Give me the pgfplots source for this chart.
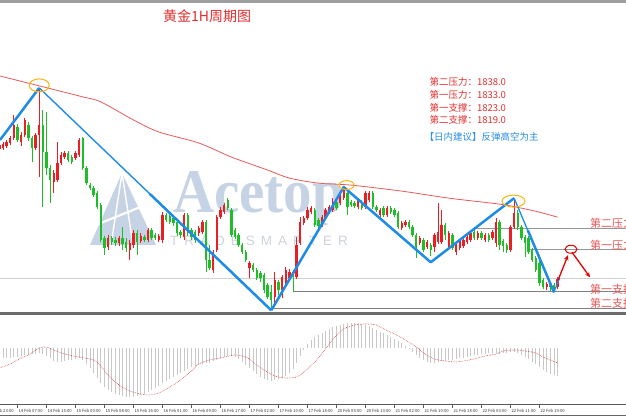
\documentclass[border=0pt]{standalone}
\usepackage{fontspec}
\setmainfont{Noto Sans CJK SC}
\newfontfamily\wmfont{Liberation Serif}
\newfontfamily\wmsans{Liberation Sans}
\usepackage{pgfplots}
\pgfplotsset{compat=1.18}
\usepackage{pgfplotstable}
\usetikzlibrary{arrows.meta}

\definecolor{cup}{RGB}{235,30,35}
\definecolor{cdn}{RGB}{30,190,40}
\definecolor{zz}{RGB}{30,140,230}
\definecolor{lvl}{RGB}{150,150,150}
\definecolor{txtred}{RGB}{225,45,45}
\definecolor{lblred}{RGB}{232,85,85}
\definecolor{txtblue}{RGB}{40,140,225}
\definecolor{ma}{RGB}{230,90,90}
\definecolor{orng}{RGB}{245,180,20}
\definecolor{wm}{RGB}{198,211,229}
\definecolor{wm2}{RGB}{206,211,219}
\definecolor{hist}{RGB}{200,200,200}
\definecolor{sig}{RGB}{205,60,60}

\pgfplotstableread{
x o h l c
3 1856.53 1857.94 1856.06 1857.47
4 1856.77 1858.18 1856.30 1857.71
5 1857.24 1858.65 1856.77 1858.18
6 1857.94 1859.59 1857.47 1859.12
7 1859.12 1864.53 1858.65 1862.18
9 1858.18 1860.53 1857.24 1859.82
10 1859.82 1863.82 1859.35 1863.35
13 1856.77 1860.29 1856.30 1859.82
14 1859.82 1870.88 1849.94 1862.18
18 1848.77 1851.59 1846.18 1850.88
19 1849.24 1858.18 1848.77 1853.24
20 1853.24 1855.82 1852.77 1855.12
21 1854.65 1856.06 1854.18 1855.59
24 1854.41 1856.06 1853.94 1855.59
25 1855.12 1859.12 1854.65 1858.65
33 1833.48 1836.30 1832.77 1835.59
36 1834.42 1836.06 1833.71 1835.59
39 1832.77 1835.12 1830.42 1834.42
40 1833.95 1837.47 1833.24 1836.77
42 1834.89 1836.77 1834.42 1836.06
44 1835.12 1837.94 1834.65 1837.47
47 1835.12 1836.53 1834.65 1836.06
48 1835.12 1841.71 1834.42 1841.00
54 1835.83 1841.47 1835.12 1841.00
58 1836.77 1838.41 1836.06 1837.94
59 1837.00 1839.82 1836.53 1839.35
62 1828.07 1832.77 1827.37 1832.30
63 1832.77 1841.00 1832.30 1840.53
64 1840.53 1842.88 1840.06 1842.18
65 1841.71 1843.82 1841.24 1843.35
72 1828.54 1830.19 1826.19 1829.72
79 1821.73 1827.60 1819.38 1825.72
81 1823.37 1826.90 1821.49 1826.43
82 1825.25 1828.78 1824.08 1828.07
83 1826.19 1828.31 1825.49 1827.60
85 1826.43 1835.83 1825.96 1833.95
86 1834.42 1840.53 1833.95 1839.35
87 1839.12 1840.77 1838.65 1840.30
88 1840.30 1842.88 1839.82 1842.18
89 1841.71 1843.12 1841.24 1842.65
92 1838.65 1841.00 1838.18 1840.53
93 1840.30 1842.65 1839.82 1842.18
94 1841.71 1843.35 1841.24 1842.88
95 1842.18 1845.00 1841.71 1844.06
97 1843.82 1846.18 1843.35 1845.71
98 1845.00 1847.59 1844.53 1846.88
102 1842.88 1845.00 1842.41 1844.53
104 1842.88 1846.65 1842.41 1846.18
105 1844.53 1846.65 1844.06 1846.18
108 1841.00 1842.65 1840.53 1842.18
110 1841.00 1843.12 1840.53 1842.65
114 1837.94 1839.59 1837.47 1839.12
115 1838.65 1839.82 1838.18 1839.35
119 1834.42 1836.06 1833.95 1835.59
121 1833.48 1835.12 1833.01 1834.65
123 1833.48 1836.77 1832.30 1836.30
124 1834.65 1843.82 1834.18 1837.00
125 1834.65 1842.18 1834.18 1838.65
127 1833.48 1837.24 1832.77 1836.77
129 1832.30 1834.42 1831.60 1833.95
130 1833.24 1835.36 1832.77 1834.89
131 1833.71 1835.59 1833.24 1835.12
132 1834.65 1836.30 1834.18 1835.83
133 1835.12 1837.24 1834.65 1836.77
135 1835.59 1837.24 1835.12 1836.77
137 1835.12 1836.77 1834.65 1836.30
139 1835.59 1837.47 1835.12 1837.00
140 1834.42 1840.30 1833.48 1839.35
144 1832.77 1838.65 1832.30 1838.18
145 1838.18 1844.77 1837.71 1841.47
154 1824.08 1825.25 1823.37 1824.78
157 1824.08 1826.43 1823.61 1825.96
}\upc

\pgfplotstableread{
x o h l c
8 1861.71 1862.41 1858.18 1858.65
11 1862.18 1862.88 1858.41 1859.12
12 1859.12 1859.59 1853.47 1856.77
15 1862.18 1865.71 1842.88 1855.82
16 1855.82 1865.24 1850.41 1852.06
17 1852.06 1852.77 1843.82 1849.24
22 1855.59 1856.06 1853.47 1853.94
23 1854.65 1855.12 1853.00 1853.47
26 1859.12 1859.35 1851.59 1852.06
27 1852.06 1852.53 1848.06 1848.53
28 1848.06 1848.53 1846.88 1847.35
29 1847.35 1847.82 1845.24 1845.71
30 1846.18 1846.65 1842.41 1842.88
31 1843.35 1843.82 1834.65 1835.12
32 1835.59 1836.06 1831.60 1833.24
34 1835.59 1836.06 1833.95 1834.65
35 1835.12 1835.83 1833.71 1834.42
37 1835.59 1838.18 1832.77 1834.18
38 1834.65 1835.59 1832.30 1833.24
41 1836.77 1837.47 1831.60 1834.65
43 1835.83 1836.30 1834.65 1835.12
45 1837.47 1837.94 1835.12 1835.59
46 1836.30 1836.77 1835.12 1835.59
49 1841.00 1841.47 1839.35 1839.82
50 1840.77 1841.47 1838.88 1839.35
51 1840.30 1840.77 1838.41 1839.12
52 1839.35 1839.82 1836.06 1836.77
53 1837.00 1837.47 1835.59 1836.30
55 1841.00 1841.47 1836.06 1836.77
56 1837.47 1837.94 1835.12 1835.83
57 1837.00 1837.47 1834.42 1835.12
60 1839.35 1839.82 1827.60 1830.42
61 1830.42 1833.95 1828.07 1828.54
66 1844.53 1845.00 1842.18 1842.65
67 1842.18 1842.65 1835.83 1836.30
68 1837.47 1837.94 1835.36 1835.83
69 1836.30 1836.77 1833.48 1833.95
70 1833.95 1834.42 1831.83 1832.30
71 1832.30 1832.77 1829.95 1830.42
73 1829.25 1829.72 1827.60 1828.07
74 1828.07 1828.54 1825.72 1826.19
75 1827.37 1827.84 1825.25 1826.19
76 1826.90 1827.37 1822.67 1823.37
77 1824.55 1825.02 1821.26 1821.73
78 1822.90 1824.55 1818.67 1821.02
80 1825.25 1825.72 1822.20 1823.37
84 1827.60 1828.07 1822.90 1826.43
90 1842.18 1842.65 1838.18 1838.65
91 1839.82 1840.30 1837.94 1838.41
96 1844.06 1844.53 1842.18 1842.65
99 1846.18 1846.65 1841.00 1842.88
100 1844.06 1844.53 1842.88 1843.35
101 1843.82 1844.30 1842.65 1843.12
103 1844.06 1844.53 1842.18 1842.65
106 1846.18 1846.65 1842.41 1842.88
107 1842.88 1843.35 1841.71 1842.18
109 1842.65 1843.12 1840.53 1841.00
111 1842.65 1843.12 1841.24 1841.71
112 1842.18 1842.65 1840.53 1841.00
113 1841.47 1841.94 1837.71 1838.18
116 1839.35 1839.82 1837.71 1838.18
117 1838.18 1838.65 1835.83 1836.30
118 1836.30 1836.77 1830.89 1833.48
120 1835.12 1835.59 1832.30 1832.77
122 1833.95 1834.42 1831.36 1832.77
126 1838.65 1839.12 1835.12 1836.30
128 1836.30 1836.77 1832.77 1833.24
134 1837.00 1837.47 1835.12 1835.59
136 1836.77 1837.24 1835.12 1835.59
138 1836.30 1836.77 1834.65 1835.12
141 1839.35 1839.82 1832.77 1833.95
142 1834.89 1835.36 1832.30 1833.71
143 1833.95 1834.42 1832.07 1832.77
146 1841.47 1842.18 1837.47 1838.18
147 1838.18 1838.65 1835.12 1835.59
148 1835.83 1836.30 1831.13 1834.42
149 1835.59 1836.06 1831.83 1832.30
150 1832.77 1833.24 1829.95 1830.42
151 1830.89 1831.36 1827.60 1828.07
152 1829.72 1830.19 1824.31 1825.02
153 1825.72 1826.19 1823.61 1824.08
155 1824.78 1825.25 1823.14 1824.08
156 1824.55 1825.02 1822.90 1823.84
}\dnc

\pgfplotstableread{
x m
3 -1.0
4 -1.0
5 -1.0
6 -1.0
7 -0.9
8 -0.9
9 -0.8
10 -0.7
11 -0.7
12 -0.6
13 -0.6
14 -0.5
15 -0.6
16 -0.8
17 -1.0
18 -1.3
19 -1.4
20 -1.4
21 -1.3
22 -1.2
23 -1.2
24 -1.1
25 -1.0
26 -1.2
27 -1.6
28 -2.0
29 -2.5
30 -3.0
31 -3.5
32 -3.9
33 -4.2
34 -4.4
35 -4.6
36 -4.7
37 -4.8
38 -4.9
39 -4.9
40 -4.9
41 -4.8
42 -4.7
43 -4.6
44 -4.4
45 -4.2
46 -4.0
47 -3.8
48 -3.5
49 -3.3
50 -3.1
51 -2.9
52 -2.7
53 -2.5
54 -2.3
55 -2.1
56 -1.9
57 -1.8
58 -1.7
59 -1.6
60 -1.5
61 -1.5
62 -1.3
63 -1.2
64 -1.0
65 -0.9
66 -0.8
67 -0.8
68 -0.9
69 -1.1
70 -1.4
71 -1.7
72 -2.0
73 -2.3
74 -2.6
75 -2.9
76 -3.1
77 -3.2
78 -3.3
79 -3.2
80 -3.1
81 -3.0
82 -2.8
83 -2.5
84 -2.1
85 -1.5
86 -0.8
87 -0.2
88 0.4
89 0.8
90 1.1
91 1.3
92 1.5
93 1.7
94 1.9
95 2.1
96 2.2
97 2.3
98 2.4
99 2.5
100 2.5
101 2.5
102 2.5
103 2.4
104 2.3
105 2.2
106 2.0
107 1.8
108 1.6
109 1.5
110 1.3
111 1.1
112 0.9
113 0.7
114 0.5
115 0.2
116 -0.1
117 -0.4
118 -0.7
119 -1.0
120 -1.2
121 -1.4
122 -1.5
123 -1.5
124 -1.4
125 -1.3
126 -1.3
127 -1.2
128 -1.2
129 -1.1
130 -1.0
131 -1.0
132 -0.9
133 -0.8
134 -0.7
135 -0.7
136 -0.6
137 -0.6
138 -0.5
139 -0.5
140 -0.5
141 -0.6
142 -0.5
143 -0.5
144 -0.4
145 -0.4
146 -0.5
147 -0.7
148 -0.9
149 -1.1
150 -1.4
151 -1.6
152 -1.9
153 -2.2
154 -2.4
155 -2.6
156 -2.7
157 -2.8
}\macd

\pgfplotstableread{
x s
3 -2.0
6 -1.6
9 -1.0
11 -0.7
14 0.0
16 0.1
18 -0.2
21 -0.6
25 -0.9
29 -1.2
31 -1.8
33 -2.7
36 -3.7
39 -4.3
42 -4.6
44 -4.7
47 -4.5
50 -3.9
53 -3.2
56 -2.3
58 -1.6
61 -1.2
64 -1.0
68 -0.7
71 -0.9
73 -1.4
76 -2.2
79 -2.8
82 -3.0
85 -2.9
87 -2.4
90 -1.4
93 -0.1
95 0.9
98 1.9
101 2.3
104 2.4
107 2.3
109 1.9
112 1.4
115 0.8
118 0.1
120 -0.5
123 -1.1
126 -1.3
129 -1.4
131 -1.3
134 -1.1
137 -0.8
140 -0.6
142 -0.3
145 -0.2
148 -0.3
151 -0.5
153 -0.9
157 -1.5
}\sigt

\pgfplotsset{
  wick/.style={draw=none, mark=none, forget plot,
    error bars/.cd, y dir=plus, y explicit, error mark=none,
    error bar style={line width=0.8pt, draw=#1}},
  cbody/.style={draw=none, mark=none, forget plot,
    error bars/.cd, y dir=plus, y explicit, error mark=none,
    error bar style={line width=2.4pt, draw=#1}},
}

\begin{document}
\begin{tikzpicture}
\begin{scope}[x=1pt,y=1pt]
% watermark
\fill[wm] (122,244) -- (90,172) -- (156,172) -- cycle;
\draw[white, line width=1.4pt] (122,244) -- (111,172);
\draw[white, line width=1.4pt] (122,244) -- (133,172);
\draw[white, line width=2.2pt] (96,192) -- (160,218);
\node[anchor=base west, inner sep=0pt, text=wm, font=\wmfont\bfseries\fontsize{57}{57}\selectfont, yscale=1.09, transform shape] at (173,204) {Acetop};
\node[anchor=west, inner sep=0pt, text=wm2, font=\wmsans\fontsize{13.5}{13.5}\selectfont] at (170,176)
  {T\kern6pt R\kern6pt A\kern6pt D\kern6pt E\kern6pt S\kern6pt M\kern6pt A\kern6pt R\kern6pt T\kern6pt E\kern6pt R};
% frames
\fill[black!38] (0,414.3) rectangle (626,417);
\fill[black!58] (0,102) rectangle (626,104.6);
\draw[black!60, line width=0.8pt] (0,1.2) -- (626,1.2);
% title and text block
\node[anchor=west, inner sep=0pt, text=txtred, font=\fontsize{14}{14}\selectfont] at (163,400.5) {黄金1H周期图};
\node[anchor=west, inner sep=0pt, text=txtred, font=\fontsize{9.5}{9.5}\selectfont] at (429.3,335) {第二压力：1838.0};
\node[anchor=west, inner sep=0pt, text=txtred, font=\fontsize{9.5}{9.5}\selectfont] at (429.3,322) {第一压力：1833.0};
\node[anchor=west, inner sep=0pt, text=txtred, font=\fontsize{9.5}{9.5}\selectfont] at (429.3,309) {第一支撑：1823.0};
\node[anchor=west, inner sep=0pt, text=txtred, font=\fontsize{9.5}{9.5}\selectfont] at (429.3,297) {第二支撑：1819.0};
\node[anchor=west, inner sep=0pt, text=txtblue, font=\fontsize{9.5}{9.5}\selectfont] at (424.5,280) {【日内建议】反弹高空为主};
\end{scope}

% main price axis
\begin{axis}[at={(0pt,104.6pt)}, anchor=south west, scale only axis,
  width=626pt, height=309.7pt,
  xmin=3.172, xmax=175.86, ymin=1818.18, ymax=1890.88,
  hide axis, clip=true]
\addplot[draw=black!18, line width=0.7pt, forget plot] coordinates {(3,1826.2) (176,1826.2)};
\addplot[draw=lvl, line width=0.9pt, forget plot] coordinates {(133.7,1838.0) (176,1838.0)};
\addplot[draw=lvl, line width=0.9pt, forget plot] coordinates {(149.4,1833.0) (176,1833.0)};
\addplot[draw=black!50, line width=0.9pt, forget plot] coordinates {(84,1823.0) (176,1823.0)};
\addplot[draw=black!50, line width=0.9pt, forget plot] coordinates {(78.2,1819.0) (176,1819.0)};
\addplot[draw=ma, line width=0.8pt, smooth, forget plot] coordinates {
(3,1873.71) (14,1871.35) (26,1868.77) (31,1867.59) (40,1863.35) (47,1860.53)
(58,1857.94) (67,1854.65) (77,1851.59) (83,1849.71) (91,1848.53) (100,1848.06)
(114,1846.65) (127,1845.00) (141,1843.59) (147,1842.65) (152,1841.71) (157,1840.53)};
\addplot[wick=cup] table[x=x, y=l, y error plus expr={\thisrow{h}-\thisrow{l}}] {\upc};
\addplot[cbody=cup] table[x=x, y=o, y error plus expr={\thisrow{c}-\thisrow{o}+0.06}] {\upc};
\addplot[wick=cdn] table[x=x, y=l, y error plus expr={\thisrow{h}-\thisrow{l}}] {\dnc};
\addplot[cbody=cdn] table[x=x, y=c, y error plus expr={\thisrow{o}-\thisrow{c}+0.06}] {\dnc};
\addplot[draw=zz, line width=2.5pt, line join=round, forget plot] coordinates {(3.17,1858.65) (14,1870.88)};
\addplot[draw=zz, line width=1.4pt, forget plot] coordinates {(14,1870.88) (78,1818.67)};
\addplot[draw=zz, line width=2.5pt, forget plot] coordinates {(44.5,1846.0) (78,1818.67)};
\addplot[draw=zz, line width=2.5pt, line join=round, forget plot] coordinates {(78,1818.67) (98,1847.6) (122,1829.95) (145,1845.0)};
\addplot[draw=zz, line width=1.3pt, forget plot] coordinates {(145,1845.0) (156,1822.9)};
\addplot[draw=zz, line width=2.5pt, forget plot] coordinates {(148.75,1837.5) (156,1822.9)};
\addplot[draw=zz, line width=1.2pt, -{Stealth[length=4pt,width=3.5pt]}, forget plot] coordinates {(156,1822.9) (157.6,1826.6)};
\addplot[only marks, mark=o, mark size=6.5pt, mark options={draw=orng, line width=1pt, xscale=1.54}, forget plot] coordinates {(14,1871.47)};
\addplot[only marks, mark=o, mark size=4.5pt, mark options={draw=orng, line width=1pt, xscale=1.67}, forget plot] coordinates {(98.76,1848.06)};
\addplot[only marks, mark=o, mark size=6pt, mark options={draw=orng, line width=1pt, xscale=1.92}, forget plot] coordinates {(144.83,1844.30)};
\addplot[only marks, mark=o, mark size=4pt, mark options={draw=red!90!black, line width=1pt, xscale=1.5}, forget plot] coordinates {(160.69,1833.0)};
\addplot[draw=red!90!black, line width=1.3pt, -{Stealth[length=5pt,width=4.5pt]}, forget plot] coordinates {(157.1,1825.72) (159.86,1831.6)};
\addplot[draw=red!90!black, line width=1.3pt, -{Stealth[length=5pt,width=4.5pt]}, forget plot] coordinates {(160.97,1832.3) (165.93,1826.43)};
\node[overlay, anchor=west, inner sep=0pt, text=lblred, font=\fontsize{11}{11}\selectfont] at (axis cs:165.93,1839.0) {第二压力：1838.0};
\node[overlay, anchor=west, inner sep=0pt, text=lblred, font=\fontsize{11}{11}\selectfont] at (axis cs:165.93,1833.95) {第一压力：1833.0};
\node[overlay, anchor=west, inner sep=0pt, text=lblred, font=\fontsize{11}{11}\selectfont] at (axis cs:165.93,1823.6) {第一支撑：1823.0};
\node[overlay, anchor=west, inner sep=0pt, text=lblred, font=\fontsize{11}{11}\selectfont] at (axis cs:165.93,1820.3) {第二支撑：1819.0};
\end{axis}

% MACD axis
\begin{axis}[at={(0pt,13pt)}, anchor=south west, scale only axis,
  width=626pt, height=88pt,
  xmin=3.172, xmax=175.86, ymin=-5.6, ymax=3.2,
  axis x line=bottom, axis y line=none,
  axis line style={-, draw=black!65, line width=0.8pt},
  xtick={8,16,...,152},
  xticklabels={14 Feb 07:00,14 Feb 15:00,15 Feb 00:00,15 Feb 08:00,15 Feb 16:00,16 Feb 01:00,16 Feb 09:00,16 Feb 17:00,17 Feb 02:00,17 Feb 10:00,17 Feb 18:00,20 Feb 05:00,20 Feb 13:00,21 Feb 02:00,21 Feb 10:00,21 Feb 18:00,22 Feb 03:00,22 Feb 11:00,22 Feb 19:00},
  tick align=outside, major tick length=4pt,
  tick style={draw=black!65, line width=0.5pt},
  xticklabel style={font=\fontsize{4.2}{4.2}\selectfont, text=black!80, anchor=north west, inner sep=0pt, xshift=0.8pt, yshift=-1pt},
  ytick=\empty, clip=false]
\addplot[ycomb, draw=hist, line width=1pt, mark=none] table[x=x, y=m] {\macd};
\addplot[draw=sig, densely dotted, line width=0.6pt, smooth, mark=none] table[x=x, y=s] {\sigt};
\node[overlay, anchor=north west, inner sep=0pt, text=black!80, font=\fontsize{4.2}{4.2}\selectfont, xshift=0.8pt, yshift=-5pt] at (axis cs:0,-5.6) {13 Feb 23:00};
\end{axis}
\pgfresetboundingbox
\path[use as bounding box] (0pt,0pt) rectangle (626pt,417pt);
\end{tikzpicture}
\end{document}
